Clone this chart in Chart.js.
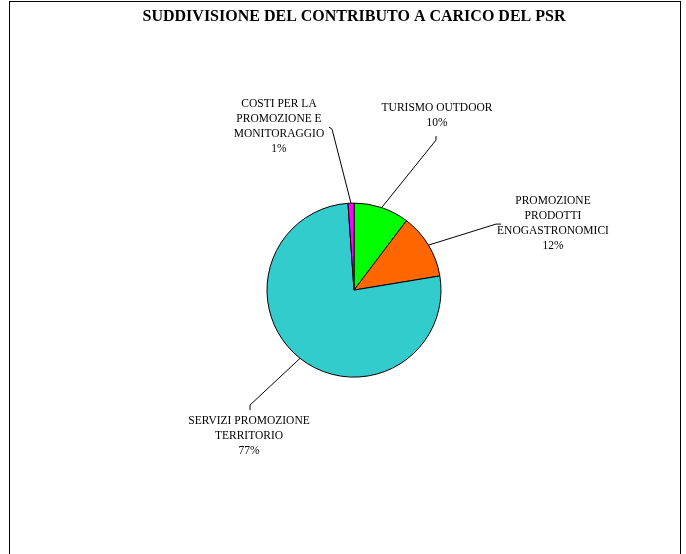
<!DOCTYPE html>
<html>
<head>
<meta charset="utf-8">
<script src="https://cdn.jsdelivr.net/npm/chart.js@4.4.1/dist/chart.umd.min.js"></script>
<style>
  html, body { margin: 0; padding: 0; background: #fff; overflow: hidden; }
  #frame {
    position: absolute; left: 9px; top: 1px; width: 670px; height: 560px;
    border: 1px solid #000; border-bottom: none;
  }
  #wrap { position: relative; width: 670px; height: 552px; }
</style>
</head>
<body>
<div id="frame"><div id="wrap"><canvas id="pie"></canvas></div></div>
<script>
// Slices, clockwise from 12 o'clock
const categories = ['TURISMO OUTDOOR', 'PROMOZIONE PRODOTTI ENOGASTRONOMICI', 'SERVIZI PROMOZIONE TERRITORIO', 'COSTI PER LA PROMOZIONE E MONITORAGGIO'];
const labelLines = [
  ['TURISMO OUTDOOR'],
  ['PROMOZIONE', 'PRODOTTI', 'ENOGASTRONOMICI'],
  ['SERVIZI PROMOZIONE', 'TERRITORIO'],
  ['COSTI PER LA', 'PROMOZIONE E', 'MONITORAGGIO']
];
const values = [10.3, 12.1, 76.5, 1.1];
const colors = ['#00ff00', '#ff6600', '#33cccc', '#ff00ff'];

// label placement relative to the pie centre: elbow, tick end, text centre x, first line y
const labelStyle = [
  { elbow: [82, -150], tick: [82, -154], tx: 83, ty: -182 },
  { elbow: [142, -66], tick: [147, -66], tx: 199, ty: -89 },
  { elbow: [-104, 115], tick: [-104, 120], tx: -105, ty: 131 },
  { elbow: [-22, -161], tick: [-25, -163], tx: -75, ty: -186 }
];

const labelFont = '11.5px "Liberation Serif", "Times New Roman", serif';

const leaderLabels = {
  id: 'leaderLabels',
  afterDatasetsDraw(chart) {
    const ctx = chart.ctx;
    const arcs = chart.getDatasetMeta(0).data;
    const total = values.reduce((a, b) => a + b, 0);
    ctx.save();
    ctx.strokeStyle = '#000';
    ctx.lineWidth = 1;
    ctx.fillStyle = '#000';
    ctx.font = labelFont;
    ctx.textAlign = 'center';
    ctx.textBaseline = 'middle';
    arcs.forEach((arc, i) => {
      const p = arc.getProps(['x', 'y', 'startAngle', 'endAngle', 'outerRadius'], true);
      const mid = (p.startAngle + p.endAngle) / 2;
      const s = labelStyle[i];
      ctx.beginPath();
      ctx.moveTo(p.x + Math.cos(mid) * p.outerRadius, p.y + Math.sin(mid) * p.outerRadius);
      ctx.lineTo(p.x + s.elbow[0], p.y + s.elbow[1]);
      ctx.lineTo(p.x + s.tick[0], p.y + s.tick[1]);
      ctx.stroke();
      const lines = labelLines[i].concat([Math.round(values[i] / total * 100) + '%']);
      lines.forEach((t, k) => {
        ctx.fillText(t, p.x + s.tx, p.y + s.ty + k * 15);
      });
    });
    ctx.restore();
  }
};

new Chart(document.getElementById('pie'), {
  type: 'pie',
  data: {
    labels: categories,
    datasets: [{
      data: values,
      backgroundColor: colors,
      borderColor: '#000',
      borderWidth: 1,
      radius: 87
    }]
  },
  options: {
    responsive: true,
    maintainAspectRatio: false,
    animation: false,
    layout: { padding: { left: 18, right: 0, top: 0, bottom: 0 } },
    plugins: {
      legend: { display: false },
      tooltip: { enabled: false },
      title: {
        display: true,
        text: 'SUDDIVISIONE DEL CONTRIBUTO A CARICO DEL PSR',
        color: '#000',
        font: { family: '"Liberation Serif", "Times New Roman", serif', size: 16, weight: 'bold' },
        padding: { top: 5, bottom: 0 }
      }
    }
  },
  plugins: [leaderLabels]
});
</script>
</body>
</html>
